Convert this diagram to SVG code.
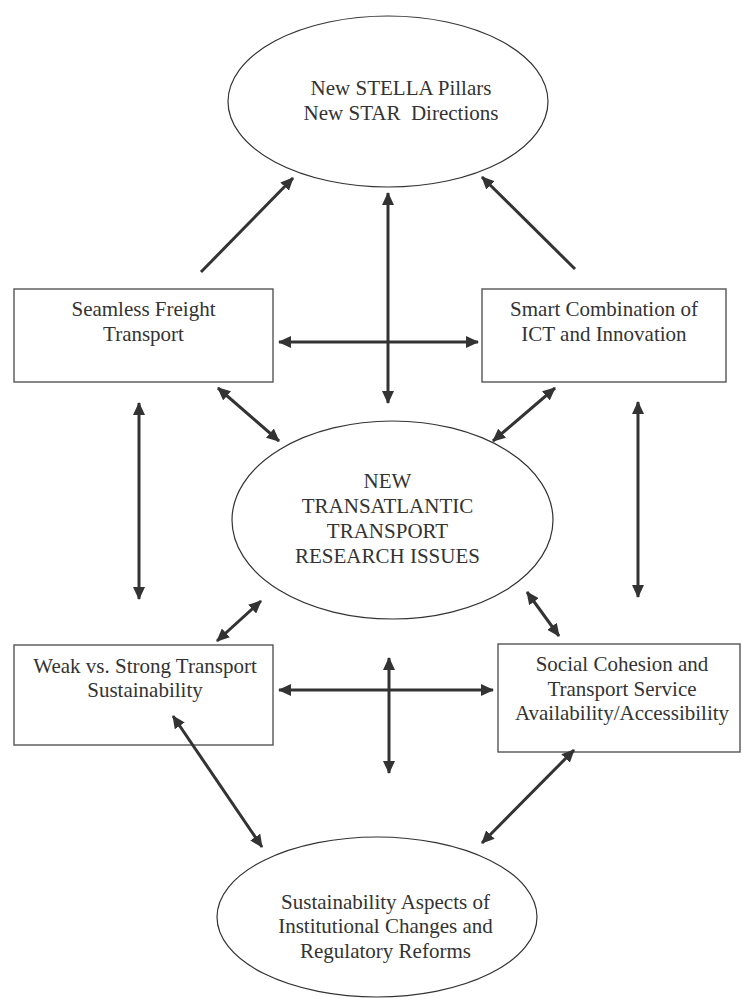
<svg xmlns="http://www.w3.org/2000/svg" width="743" height="999" viewBox="0 0 743 999">
<style>
.ell{fill:#fff;stroke:#333;stroke-width:1.2}
.box{fill:#fff;stroke:#555;stroke-width:1.4}
.t{font-family:"Liberation Serif","Times New Roman",serif;font-size:21px;fill:#333;text-anchor:middle}
.c{stroke:#333;stroke-width:3;fill:none}
.one{marker-end:url(#ah)}
.two{marker-start:url(#ah);marker-end:url(#ah)}
</style>
<defs>
<marker id="ah" markerUnits="userSpaceOnUse" markerWidth="14" markerHeight="12" refX="12" refY="6" orient="auto-start-reverse">
<path d="M0,0 L13,6 L0,12 z" fill="#333"/>
</marker>
</defs>
<g id="top">
<ellipse class="ell" cx="388" cy="101.5" rx="160" ry="85.5"/>
<text class="t" x="401" y="95">New STELLA Pillars</text>
<text class="t" x="401" y="120" xml:space="preserve">New STAR  Directions</text>
</g>
<g id="freight">
<rect class="box" x="14" y="289" width="259" height="93"/>
<text class="t" x="143.5" y="316">Seamless Freight</text>
<text class="t" x="143.5" y="341">Transport</text>
</g>
<g id="smart">
<rect class="box" x="482" y="289" width="244" height="93"/>
<text class="t" x="604" y="316">Smart Combination of</text>
<text class="t" x="604" y="341">ICT and Innovation</text>
</g>
<g id="center">
<ellipse class="ell" cx="392.5" cy="520" rx="160.5" ry="99"/>
<text class="t" x="387.5" y="488">NEW</text>
<text class="t" x="387.5" y="513">TRANSATLANTIC</text>
<text class="t" x="387.5" y="538">TRANSPORT</text>
<text class="t" x="387.5" y="563">RESEARCH ISSUES</text>
</g>
<g id="weak">
<rect class="box" x="14" y="645" width="259" height="100"/>
<text class="t" x="145" y="673">Weak vs. Strong Transport</text>
<text class="t" x="145" y="697">Sustainability</text>
</g>
<g id="social">
<rect class="box" x="498" y="644" width="242" height="108"/>
<text class="t" x="622" y="671">Social Cohesion and</text>
<text class="t" x="622" y="696">Transport Service</text>
<text class="t" x="622" y="720">Availability/Accessibility</text>
</g>
<g id="bottom">
<ellipse class="ell" cx="377" cy="917" rx="160" ry="80"/>
<text class="t" x="385.5" y="909">Sustainability Aspects of</text>
<text class="t" x="385.5" y="933">Institutional Changes and</text>
<text class="t" x="385.5" y="958">Regulatory Reforms</text>
</g>
<g id="connectors">
<line class="c one" x1="201" y1="272" x2="293" y2="178"/>
<line class="c one" x1="575" y1="269" x2="482" y2="177"/>
<line class="c two" x1="388" y1="193" x2="388" y2="403"/>
<line class="c two" x1="279" y1="342" x2="478" y2="342"/>
<line class="c two" x1="218" y1="388" x2="279" y2="441"/>
<line class="c two" x1="555" y1="388" x2="493" y2="441"/>
<line class="c two" x1="139" y1="403" x2="139" y2="599"/>
<line class="c two" x1="638" y1="402" x2="638" y2="597"/>
<line class="c two" x1="261" y1="601" x2="217" y2="641"/>
<line class="c two" x1="527" y1="592" x2="559" y2="636"/>
<line class="c two" x1="279" y1="690" x2="493" y2="690"/>
<line class="c two" x1="389" y1="658" x2="389" y2="773"/>
<line class="c two" x1="173" y1="716" x2="262" y2="847"/>
<line class="c two" x1="574" y1="750" x2="482" y2="843"/>
</g>
</svg>
